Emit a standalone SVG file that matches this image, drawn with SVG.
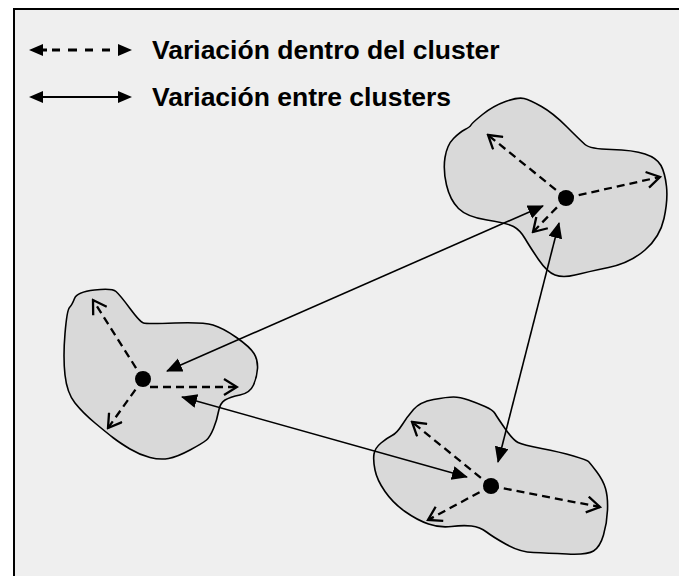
<svg xmlns="http://www.w3.org/2000/svg" width="679" height="576" viewBox="0 0 679 576">
<style>
.blob{fill:#d9d9d9;stroke:#000;stroke-width:1.6;stroke-linejoin:round}
.dash{stroke:#000;stroke-width:2.3;stroke-dasharray:8 5;fill:none;marker-end:url(#open)}
.solid{stroke:#000;stroke-width:1.6;fill:none;marker-start:url(#tri);marker-end:url(#tri)}
.dot{fill:#000}
.head{fill:#000}
.lbl{font-family:"Liberation Sans",Arial,sans-serif;font-weight:bold;font-size:26.5px;fill:#000}
</style>
<defs>
<marker id="tri" markerUnits="userSpaceOnUse" markerWidth="17" markerHeight="15" refX="15" refY="7" orient="auto-start-reverse"><path d="M0,0 L16,7 L0,14 z" fill="#000"/></marker>
<marker id="open" markerUnits="userSpaceOnUse" markerWidth="16" markerHeight="18" refX="14" refY="9" orient="auto"><path d="M1,1 L14,9 L1,17" fill="none" stroke="#000" stroke-width="2.3"/></marker>
</defs>
<rect x="0" y="0" width="679" height="576" fill="#fff"/>
<rect x="14" y="9" width="680" height="580" fill="#efefef" stroke="#000" stroke-width="2"/>
<g id="legend">
<path d="M36,50 H47 M52,50 H60 M68,50 H77 M85,50 H93 M102,50 H110" stroke="#000" stroke-width="3" fill="none"/>
<path class="head" d="M29,50 L43,44 L43,56 Z"/>
<path class="head" d="M132,50 L118,44 L118,56 Z"/>
<text class="lbl" x="152" y="59">Variación dentro del cluster</text>
<line x1="40" y1="97" x2="122" y2="97" stroke="#000" stroke-width="2"/>
<path class="head" d="M29,97 L43,91 L43,103 Z"/>
<path class="head" d="M132,97 L118,91 L118,103 Z"/>
<text class="lbl" x="152" y="106">Variación entre clusters</text>
</g>
<g id="cluster-top">
<path class="blob" d="M524,98.5 Q518,97 505.5,101.5 Q493,106 482.5,114.5 Q472,123 471,125 Q470,127 465,129.5 Q460,132 453.5,138.5 Q447,145 445,157.5 Q443,170 446.5,185 Q450,200 458.5,208.5 Q467,217 487,220 Q507,223 513.5,226.5 Q520,230 525,238.5 Q530,247 538.5,259.5 Q547,272 555,275 Q563,278 575,275 Q587,272 608.5,267.5 Q630,263 645,250 Q660,237 664,218.5 Q668,200 666.5,186.5 Q665,173 661,165.5 Q657,158 645,154 Q633,150 611.5,149.5 Q590,149 585,144.5 Q580,140 566.5,126.5 Q553,113 541.5,106.5 Q530,100 524,98.5 Z"/>
</g>
<g id="cluster-left">
<path class="blob" d="M74.5,298.5 Q77,292 94.5,290 Q112,288 116,291.5 Q120,295 130,308.5 Q140,322 143.5,323 Q147,324 175,323 Q203,322 213,325 Q223,328 236.5,337.5 Q250,347 254,353.5 Q258,360 257.5,368.5 Q257,377 253.5,385 Q250,393 240,395 Q230,397 225,400 Q220,403 218.5,411.5 Q217,420 213.5,428.5 Q210,437 206.5,440 Q203,443 190,450 Q177,457 168.5,458.5 Q160,460 150,457.5 Q140,455 130,449 Q120,443 113.5,438 Q107,433 95,423 Q83,413 75,403 Q67,393 65,375 Q63,357 65,333.5 Q67,310 69.5,307.5 Q72,305 74.5,298.5 Z"/>
</g>
<g id="cluster-bottom">
<path class="blob" d="M453.5,397 Q447,397 433.5,399.5 Q420,402 413.5,409.5 Q407,417 402,425 Q397,433 392,435.5 Q387,438 381,443 Q375,448 374,454 Q373,460 375,470 Q377,480 385,491.5 Q393,503 405,511.5 Q417,520 428.5,524 Q440,528 451.5,526.5 Q463,525 471.5,526 Q480,527 486.5,532 Q493,537 506.5,544.5 Q520,552 533.5,552.5 Q547,553 567,554 Q587,555 593.5,551 Q600,547 603.5,535 Q607,523 607.5,510 Q608,497 605.5,488.5 Q603,480 596.5,471.5 Q590,463 588.5,461.5 Q587,460 573.5,456 Q560,452 541.5,448.5 Q523,445 518,442.5 Q513,440 505,428.5 Q497,417 495,413.5 Q493,410 485,406.5 Q477,403 468.5,400 Q460,397 453.5,397 Z"/>
</g>
<g id="connectors">
<line class="dash" x1="566" y1="198" x2="488" y2="135"/>
<line class="dash" x1="566" y1="198" x2="660" y2="177"/>
<line class="dash" x1="566" y1="198" x2="533" y2="232"/>
<line class="dash" x1="143" y1="379" x2="93" y2="300"/>
<line class="dash" x1="150" y1="387" x2="237" y2="387"/>
<line class="dash" x1="143" y1="379" x2="108" y2="428"/>
<line class="dash" x1="491" y1="486" x2="412" y2="422"/>
<line class="dash" x1="491" y1="486" x2="600" y2="507"/>
<line class="dash" x1="491" y1="486" x2="428" y2="520"/>
<line class="solid" x1="167" y1="371" x2="543" y2="206"/>
<line class="solid" x1="182" y1="397" x2="467" y2="477"/>
<line class="solid" x1="559" y1="223" x2="498" y2="462"/>
</g>
<g id="dots">
<circle class="dot" cx="566" cy="198" r="8"/>
<circle class="dot" cx="143" cy="379" r="8"/>
<circle class="dot" cx="491" cy="486" r="8"/>
</g>
</svg>
